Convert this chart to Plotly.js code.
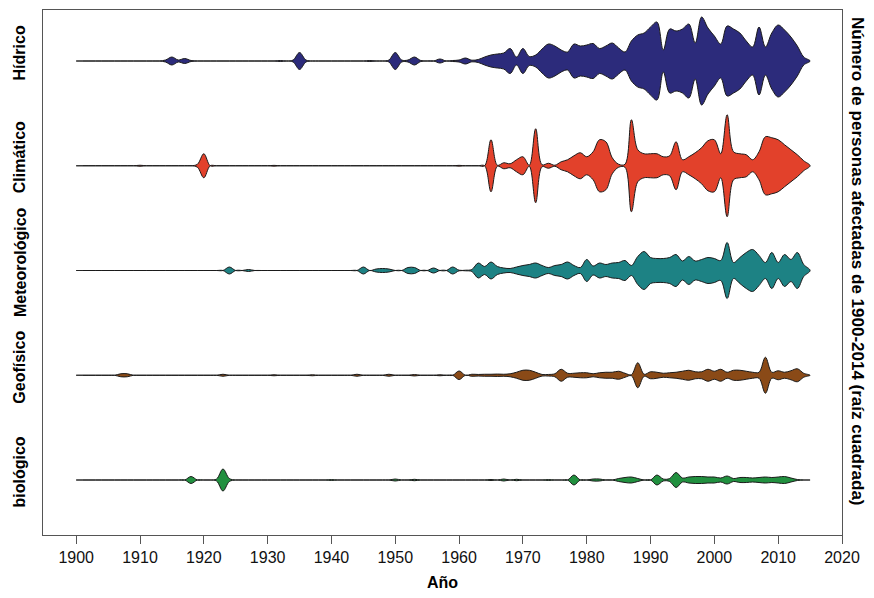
<!DOCTYPE html>
<html>
<head>
<meta charset="utf-8">
<script src="https://cdn.plot.ly/plotly-3.0.1.min.js"></script>
<style>
  html, body { margin: 0; padding: 0; background: #ffffff; }
  #chart { width: 874px; height: 598px; }
</style>
</head>
<body>
<div id="chart"></div>
<script>
// ---- Data: relative width (square root of people affected) by year ----
const categories = ["Hídrico", "Climático", "Meteorológico", "Geofísico", "biológico"];
const colors = ["#2c2b7b", "#e2412b", "#1d8284", "#8a4a17", "#21903f"];

const hidricoYears = [1914,1915,1916,1917,1918,1932,1934,1935,1936,1946,1949,1950,1951,1952,1953,1954,1957,1959,1960,1961,1962,1963,1964,1965,1966,1967,1968,1969,1970,1971,1972,1973,1974,1975,1976,1977,1978,1979,1980,1981,1982,1983,1984,1985,1986,1987,1988,1989,1990,1991,1992,1993,1994,1995,1996,1997,1998,1999,2000,2001,2002,2003,2004,2005,2006,2007,2008,2009,2010,2011,2012,2013,2014];
const hidricoValues = [1,4,1,2.5,0.5,0.5,1,8.5,1,0.5,1,8.5,1,1,4,0.5,2,0.5,1,3,0.8,1.5,4,6,7,8,12.5,4,12.5,4.5,6,12,17,15,11,9,17,15,16,17.5,12.5,15,18,13,9,20,26,28,34,39,11,32,30,32,37,18,44,33,25,17,35,32,28,20,14,34,14,28,36,31,24,15,4];

const climaticoYears = [1910,1919,1920,1931,1960,1965,1966,1967,1968,1969,1970,1971,1972,1973,1974,1975,1976,1977,1978,1979,1980,1981,1982,1983,1984,1985,1986,1987,1988,1989,1990,1991,1992,1993,1994,1995,1996,1997,1998,1999,2000,2001,2002,2003,2004,2005,2006,2007,2008,2009,2010,2011,2012,2013,2014];
const climaticoValues = [0.5,1.5,12,0.4,0.4,26,0.5,3,2,6,9,0.5,37,1,2.5,0.5,4,6,10,13,9,14,26,24,8,1.5,1.5,46,16,12,12,12,9,10,24,6,9,13,18,25,26,12,51,14,12,11,6,14,29,28,26,21,16,11,5];

const meteoYears = [1924,1927,1945,1947,1948,1949,1952,1953,1956,1959,1960,1961,1962,1963,1964,1965,1966,1967,1968,1969,1970,1971,1972,1973,1974,1975,1976,1977,1978,1979,1980,1981,1982,1983,1984,1985,1986,1987,1988,1989,1990,1991,1992,1993,1994,1995,1996,1997,1998,1999,2000,2001,2002,2003,2004,2005,2006,2007,2008,2009,2010,2011,2012,2013,2014];
const meteoValues = [3.5,1,3.5,1.5,2,1.5,3,3,2.5,3.5,0.3,0.3,1,7.5,4,8.5,4,2.5,2,3.5,5,6,7.5,5,3,5,6,8.5,5,3,11,4.5,7.5,6,7.5,8,10,5,14,19,13,12,12,13,16,9.5,14,9.5,11,13,12,10,28,8,13,18,21,15,8,18,8,16,11,18,6];

const geofisicoYears = [1907,1908,1923,1931,1937,1944,1949,1953,1957,1960,1962,1963,1964,1965,1966,1967,1968,1969,1970,1971,1972,1973,1974,1975,1976,1977,1978,1979,1980,1981,1982,1983,1984,1985,1986,1987,1988,1989,1990,1991,1992,1993,1994,1995,1996,1997,1998,1999,2000,2001,2002,2003,2004,2005,2006,2007,2008,2009,2010,2011,2012,2013,2014];
const geofisicoValues = [1.5,1.5,1,0.5,0.5,1,1,0.7,0.5,4.3,1,0.8,1,1,1.2,1,1.5,3,5,5,3,0.8,0.8,1.5,6,2,2,2.5,2.5,1.5,2.5,3,3,4,2,0.5,12.5,1,3.5,3,2,2.5,3,4,5,3.5,3.5,6,4,6,3,5,5,4,3,3,18,3,4.5,3,4.5,6.5,2];

const biologicoYears = [1918,1922,1923,1924,1940,1950,1953,1965,1967,1969,1974,1978,1981,1982,1985,1986,1987,1988,1991,1992,1993,1994,1995,1996,1997,1998,1999,2000,2001,2002,2003,2004,2005,2006,2007,2008,2009,2010,2011,2012,2013];
const biologicoValues = [3.5,1,11,1.5,0.4,1,0.7,0.5,1,0.7,0.4,5,1,1,1.5,2.5,3,1.5,5,1,1.5,7.5,2,3,3.5,3.5,3,3,2,4,1.5,2.5,2.5,2,2.5,3,2.5,3,3.5,2,0.5];

const xTicks = [1900,1910,1920,1930,1940,1950,1960,1970,1980,1990,2000,2010,2020];

// ---- Build yearly series (years without data = 0) ----
const firstYear = 1900, lastYear = 2015;
const years = [];
for (let y = firstYear; y <= lastYear; y++) years.push(y);

function yearly(ys, vs) {
  const arr = years.map(() => 0);
  ys.forEach((y, i) => { arr[y - firstYear] = vs[i]; });
  return arr;
}

const seriesList = [
  yearly(hidricoYears, hidricoValues),
  yearly(climaticoYears, climaticoValues),
  yearly(meteoYears, meteoValues),
  yearly(geofisicoYears, geofisicoValues),
  yearly(biologicoYears, biologicoValues)
];

const widthScale = 1 / 104.75; // width units per row unit

const traces = seriesList.map((w, k) => {
  const center = categories.length - k; // Hídrico at top
  const back = years.slice(0, -1).reverse();
  const wBack = w.slice(0, -1).reverse();
  return {
    type: "scatter",
    mode: "lines",
    x: years.concat(back),
    y: w.map(v => center + v * widthScale).concat(wBack.map(v => center - v * widthScale)),
    fill: "toself",
    fillcolor: colors[k],
    line: { color: "#1a1a1a", width: 1, shape: "spline", smoothing: 1 },
    hoverinfo: "skip",
    showlegend: false,
    name: categories[k]
  };
});

const labelFont = { family: "Liberation Sans, Arial, sans-serif", size: 16, color: "#000000" };

const annotations = categories.map((c, k) => ({
  text: "<b>" + c + "</b>",
  xref: "paper", yref: "y",
  x: -0.029, y: categories.length - k + 0.08,
  textangle: -90,
  showarrow: false,
  xanchor: "center", yanchor: "middle",
  font: labelFont
}));

annotations.push({
  text: "<b>Número de personas afectadas de 1900-2014 (raíz cuadrada)</b>",
  xref: "paper", yref: "paper",
  x: 1.02, y: 0.52,
  textangle: 90,
  showarrow: false,
  xanchor: "center", yanchor: "middle",
  font: { family: "Liberation Sans, Arial, sans-serif", size: 17, color: "#000000" }
});

annotations.push({
  text: "<b>Año</b>",
  xref: "paper", yref: "paper",
  x: 0.5, y: -0.09,
  showarrow: false,
  xanchor: "center", yanchor: "middle",
  font: { family: "Liberation Sans Narrow, Arial Narrow, Liberation Sans, Arial, sans-serif", size: 16, color: "#000000" }
});

const layout = {
  width: 874, height: 598,
  margin: { l: 43, r: 32, t: 10, b: 63 },
  paper_bgcolor: "#ffffff",
  plot_bgcolor: "#ffffff",
  showlegend: false,
  xaxis: {
    range: [1894.8, 2020],
    tickvals: xTicks,
    ticktext: xTicks.map(String),
    ticks: "outside", ticklen: 8, tickwidth: 1, tickcolor: "#555555",
    showline: true, mirror: true, linecolor: "#555555", linewidth: 1,
    showgrid: false, zeroline: false,
    tickfont: { family: "Liberation Sans Narrow, Arial Narrow, Liberation Sans, Arial, sans-serif", size: 16, color: "#111111" }
  },
  yaxis: {
    range: [0.475, 5.487],
    showticklabels: false, ticks: "",
    showline: true, mirror: true, linecolor: "#555555", linewidth: 1,
    showgrid: false, zeroline: false
  },
  annotations: annotations
};

Plotly.newPlot("chart", traces, layout, { staticPlot: true, displayModeBar: false });
</script>
</body>
</html>
